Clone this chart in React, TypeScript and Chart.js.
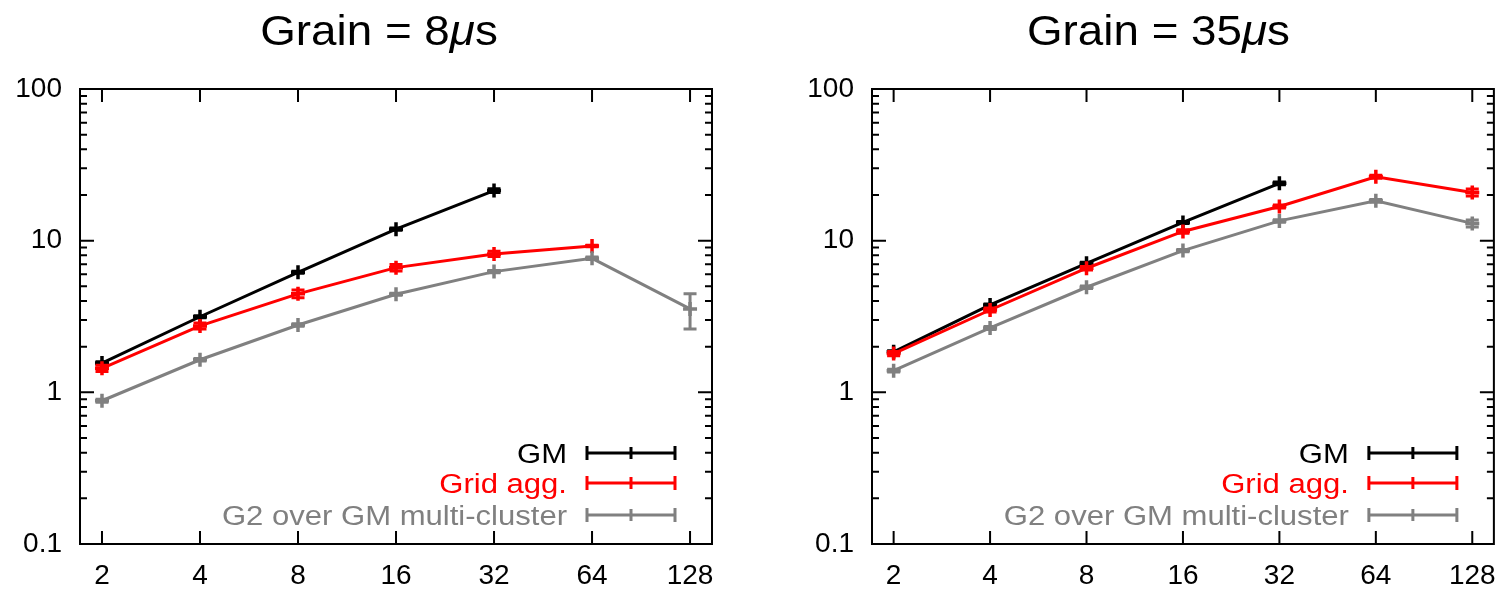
import React, { useEffect, useRef } from "react";
import { Chart, registerables } from "chart.js";

Chart.register(...registerables);

// ---------- shared axis data ----------
const X_TICKS = [2, 4, 8, 16, 32, 64, 128];
const Y_TICKS = [0.1, 1, 10, 100];
const Y_MINOR_FACTORS = [2, 3, 4, 5, 6, 7, 8, 9];
const Y_DECADES = [0.1, 1, 10];

const SERIES_NAMES = ["GM", "Grid agg.", "G2 over GM multi-cluster"];
const SERIES_COLORS = ["#000000", "#ff0000", "#808080"];

// ---------- Grain = 8us ----------
const g8GmX = [2, 4, 8, 16, 32];
const g8GmY = [1.56, 3.15, 6.19, 11.9, 21.4];
const g8GmLo = [1.53, 3.1, 6.1, 11.7, 20.8];
const g8GmHi = [1.59, 3.2, 6.28, 12.1, 22.0];

const g8GridX = [2, 4, 8, 16, 32, 64];
const g8GridY = [1.44, 2.74, 4.46, 6.64, 8.17, 9.23];
const g8GridLo = [1.37, 2.62, 4.2, 6.32, 7.85, 9.12];
const g8GridHi = [1.51, 2.86, 4.72, 6.96, 8.5, 9.34];

const g8G2X = [2, 4, 8, 16, 32, 64, 128];
const g8G2Y = [0.88, 1.64, 2.78, 4.43, 6.25, 7.65, 3.55];
const g8G2Lo = [0.86, 1.61, 2.73, 4.36, 6.15, 7.5, 2.62];
const g8G2Hi = [0.9, 1.67, 2.83, 4.5, 6.35, 7.8, 4.46];

// ---------- Grain = 35us ----------
const g35GmX = [2, 4, 8, 16, 32];
const g35GmY = [1.85, 3.77, 7.09, 13.2, 23.9];
const g35GmLo = [1.82, 3.71, 6.98, 13.0, 23.4];
const g35GmHi = [1.88, 3.83, 7.2, 13.4, 24.4];

const g35GridX = [2, 4, 8, 16, 32, 64, 128];
const g35GridY = [1.8, 3.49, 6.58, 11.5, 16.8, 26.4, 20.8];
const g35GridLo = [1.74, 3.38, 6.4, 11.2, 16.4, 25.8, 19.7];
const g35GridHi = [1.86, 3.6, 6.76, 11.8, 17.2, 27.0, 21.9];

const g35G2X = [2, 4, 8, 16, 32, 64, 128];
const g35G2Y = [1.39, 2.66, 4.93, 8.6, 13.5, 18.3, 13.0];
const g35G2Lo = [1.36, 2.6, 4.84, 8.45, 13.25, 17.9, 12.3];
const g35G2Hi = [1.42, 2.72, 5.02, 8.75, 13.75, 18.7, 13.7];

const FONT = "'Liberation Sans', Arial, Helvetica, sans-serif";

type Series = { x: number[]; y: number[]; lo: number[]; hi: number[] };

const CHARTS = [
  {
    grain: "8",
    left: 0,
    width: 756,
    padLeft: 0,
    padRight: 44,
    titleCenter: 379,
    series: [
      { x: g8GmX, y: g8GmY, lo: g8GmLo, hi: g8GmHi },
      { x: g8GridX, y: g8GridY, lo: g8GridLo, hi: g8GridHi },
      { x: g8G2X, y: g8G2Y, lo: g8G2Lo, hi: g8G2Hi },
    ] as Series[],
  },
  {
    grain: "35",
    left: 756,
    width: 755,
    padLeft: 36,
    padRight: 8,
    titleCenter: 402.5,
    series: [
      { x: g35GmX, y: g35GmY, lo: g35GmLo, hi: g35GmHi },
      { x: g35GridX, y: g35GridY, lo: g35GridLo, hi: g35GridHi },
      { x: g35G2X, y: g35G2Y, lo: g35G2Lo, hi: g35G2Hi },
    ] as Series[],
  },
];

function drawStretched(
  ctx: CanvasRenderingContext2D,
  text: string,
  x: number,
  y: number,
  sx: number,
  align: CanvasTextAlign
) {
  ctx.save();
  ctx.translate(x, y);
  ctx.scale(sx, 1);
  ctx.textAlign = align;
  ctx.textBaseline = "alphabetic";
  ctx.fillText(text, 0, 0);
  ctx.restore();
}

const decorPlugin = {
  id: "gnuplotDecor",
  afterDatasetDraw(chart: any, args: any) {
    const ds = chart.data.datasets[args.index];
    const meta = args.meta;
    const yScale = chart.scales.y;
    const ctx: CanvasRenderingContext2D = chart.ctx;
    ctx.save();
    ctx.strokeStyle = ds.borderColor;
    ctx.lineWidth = 3;
    ctx.lineCap = "butt";
    meta.data.forEach((pt: any, i: number) => {
      const yl = yScale.getPixelForValue(ds.errLo[i]);
      const yh = yScale.getPixelForValue(ds.errHi[i]);
      const cw = 6.5;
      ctx.beginPath();
      ctx.moveTo(pt.x, yl);
      ctx.lineTo(pt.x, yh);
      ctx.moveTo(pt.x - cw, yl);
      ctx.lineTo(pt.x + cw, yl);
      ctx.moveTo(pt.x - cw, yh);
      ctx.lineTo(pt.x + cw, yh);
      ctx.stroke();
    });
    ctx.restore();
  },
  afterDraw(chart: any, _args: any, opts: any) {
    const ctx: CanvasRenderingContext2D = chart.ctx;
    const { left, right, top, bottom } = chart.chartArea;
    const xs = chart.scales.x;
    const ys = chart.scales.y;
    ctx.save();
    ctx.strokeStyle = "#000";
    ctx.lineWidth = 2;
    ctx.lineCap = "butt";
    // frame
    ctx.beginPath();
    ctx.rect(left, top, right - left, bottom - top);
    ctx.stroke();
    // ticks
    ctx.beginPath();
    const major = 14;
    const minor = 7;
    Y_TICKS.forEach((v) => {
      const p = ys.getPixelForValue(v);
      ctx.moveTo(left, p);
      ctx.lineTo(left + major, p);
      ctx.moveTo(right, p);
      ctx.lineTo(right - major, p);
    });
    Y_DECADES.forEach((d) => {
      Y_MINOR_FACTORS.forEach((f) => {
        const p = ys.getPixelForValue(d * f);
        ctx.moveTo(left, p);
        ctx.lineTo(left + minor, p);
        ctx.moveTo(right, p);
        ctx.lineTo(right - minor, p);
      });
    });
    X_TICKS.forEach((v) => {
      const p = xs.getPixelForValue(v);
      ctx.moveTo(p, bottom);
      ctx.lineTo(p, bottom - 13);
      ctx.moveTo(p, top);
      ctx.lineTo(p, top + 13);
    });
    ctx.stroke();

    // legend
    const rows = [bottom - 91, bottom - 61, bottom - 29];
    const textRight = right - 145;
    const lineStart = right - 125;
    const lineEnd = right - 37;
    const legendSize = 27;
    ctx.font = `${legendSize}px ${FONT}`;
    SERIES_NAMES.forEach((name, i) => {
      const y = rows[i];
      ctx.fillStyle = SERIES_COLORS[i];
      drawStretched(ctx, name, textRight, y + legendSize * 0.358, 1.15, "right");
      ctx.strokeStyle = SERIES_COLORS[i];
      ctx.lineWidth = 3;
      ctx.beginPath();
      ctx.moveTo(lineStart, y);
      ctx.lineTo(lineEnd, y);
      ctx.moveTo(lineStart, y - 7);
      ctx.lineTo(lineStart, y + 7);
      ctx.moveTo(lineEnd, y - 7);
      ctx.lineTo(lineEnd, y + 7);
      const mid = (lineStart + lineEnd) / 2;
      ctx.moveTo(mid, y - 6);
      ctx.lineTo(mid, y + 6);
      ctx.stroke();
    });

    // title
    const tSize = 42;
    const sx = 1.09;
    const segs = [
      { t: "Grain = " + opts.grain, f: `${tSize}px ${FONT}` },
      { t: "\u03bc", f: `italic ${tSize}px ${FONT}` },
      { t: "s", f: `${tSize}px ${FONT}` },
    ];
    let total = 0;
    const widths = segs.map((s) => {
      ctx.font = s.f;
      const w = ctx.measureText(s.t).width * sx;
      total += w;
      return w;
    });
    let x = opts.titleCenter - total / 2;
    ctx.fillStyle = "#000";
    segs.forEach((s, i) => {
      ctx.font = s.f;
      drawStretched(ctx, s.t, x, 45, sx, "left");
      x += widths[i];
    });
    ctx.restore();
  },
};

function GrainChart({ cfg }: { cfg: (typeof CHARTS)[number] }) {
  const ref = useRef<HTMLCanvasElement>(null);
  useEffect(() => {
    if (!ref.current) return;
    const datasets = cfg.series.map((s, i) => ({
      label: SERIES_NAMES[i],
      data: s.x.map((x, j) => ({ x, y: s.y[j] })),
      errLo: s.lo,
      errHi: s.hi,
      borderColor: SERIES_COLORS[i],
      backgroundColor: SERIES_COLORS[i],
      borderWidth: 3,
      pointStyle: "cross",
      pointRadius: 7,
      pointHoverRadius: 7,
      pointBorderWidth: 3.5,
      pointBorderColor: SERIES_COLORS[i],
      fill: false,
      tension: 0,
      order: 3 - i,
    }));
    const chart = new Chart(ref.current, {
      type: "line",
      data: { datasets: datasets as any },
      options: {
        animation: false,
        responsive: false,
        maintainAspectRatio: false,
        events: [],
        layout: {
          padding: { left: cfg.padLeft, right: cfg.padRight, top: 89, bottom: 0 },
        },
        plugins: {
          legend: { display: false },
          tooltip: { enabled: false },
          title: { display: false },
          gnuplotDecor: { grain: cfg.grain, titleCenter: cfg.titleCenter },
        } as any,
        scales: {
          x: {
            type: "logarithmic",
            min: 1.712,
            max: 149.5,
            grid: { display: false, drawTicks: false },
            border: { display: false },
            afterBuildTicks: (s: any) => {
              s.ticks = X_TICKS.map((v) => ({ value: v }));
            },
            afterFit: (s: any) => {
              s.height = 45;
            },
            ticks: {
              autoSkip: false,
              maxRotation: 0,
              minRotation: 0,
              padding: 15,
              color: "#000",
              font: { family: FONT, size: 28 },
              callback: (v: any) => String(v),
            },
          },
          y: {
            type: "logarithmic",
            min: 0.1,
            max: 100,
            grid: { display: false, drawTicks: false },
            border: { display: false },
            afterBuildTicks: (s: any) => {
              s.ticks = Y_TICKS.map((v) => ({ value: v }));
            },
            afterFit: (s: any) => {
              s.width = 80;
            },
            ticks: {
              autoSkip: false,
              padding: 18,
              color: "#000",
              font: { family: FONT, size: 28 },
              callback: (v: any) => String(v),
            },
          },
        },
      },
      plugins: [decorPlugin as any],
    });
    return () => chart.destroy();
  }, [cfg]);
  return (
    <canvas
      ref={ref}
      width={cfg.width}
      height={589}
      style={{ position: "absolute", left: cfg.left, top: 0, width: cfg.width, height: 589 }}
    />
  );
}

export default function App() {
  return (
    <div
      style={{
        position: "fixed",
        left: 0,
        top: 0,
        width: 1511,
        height: 589,
        background: "#fff",
        overflow: "hidden",
      }}
    >
      {CHARTS.map((c) => (
        <GrainChart key={c.grain} cfg={c} />
      ))}
    </div>
  );
}
